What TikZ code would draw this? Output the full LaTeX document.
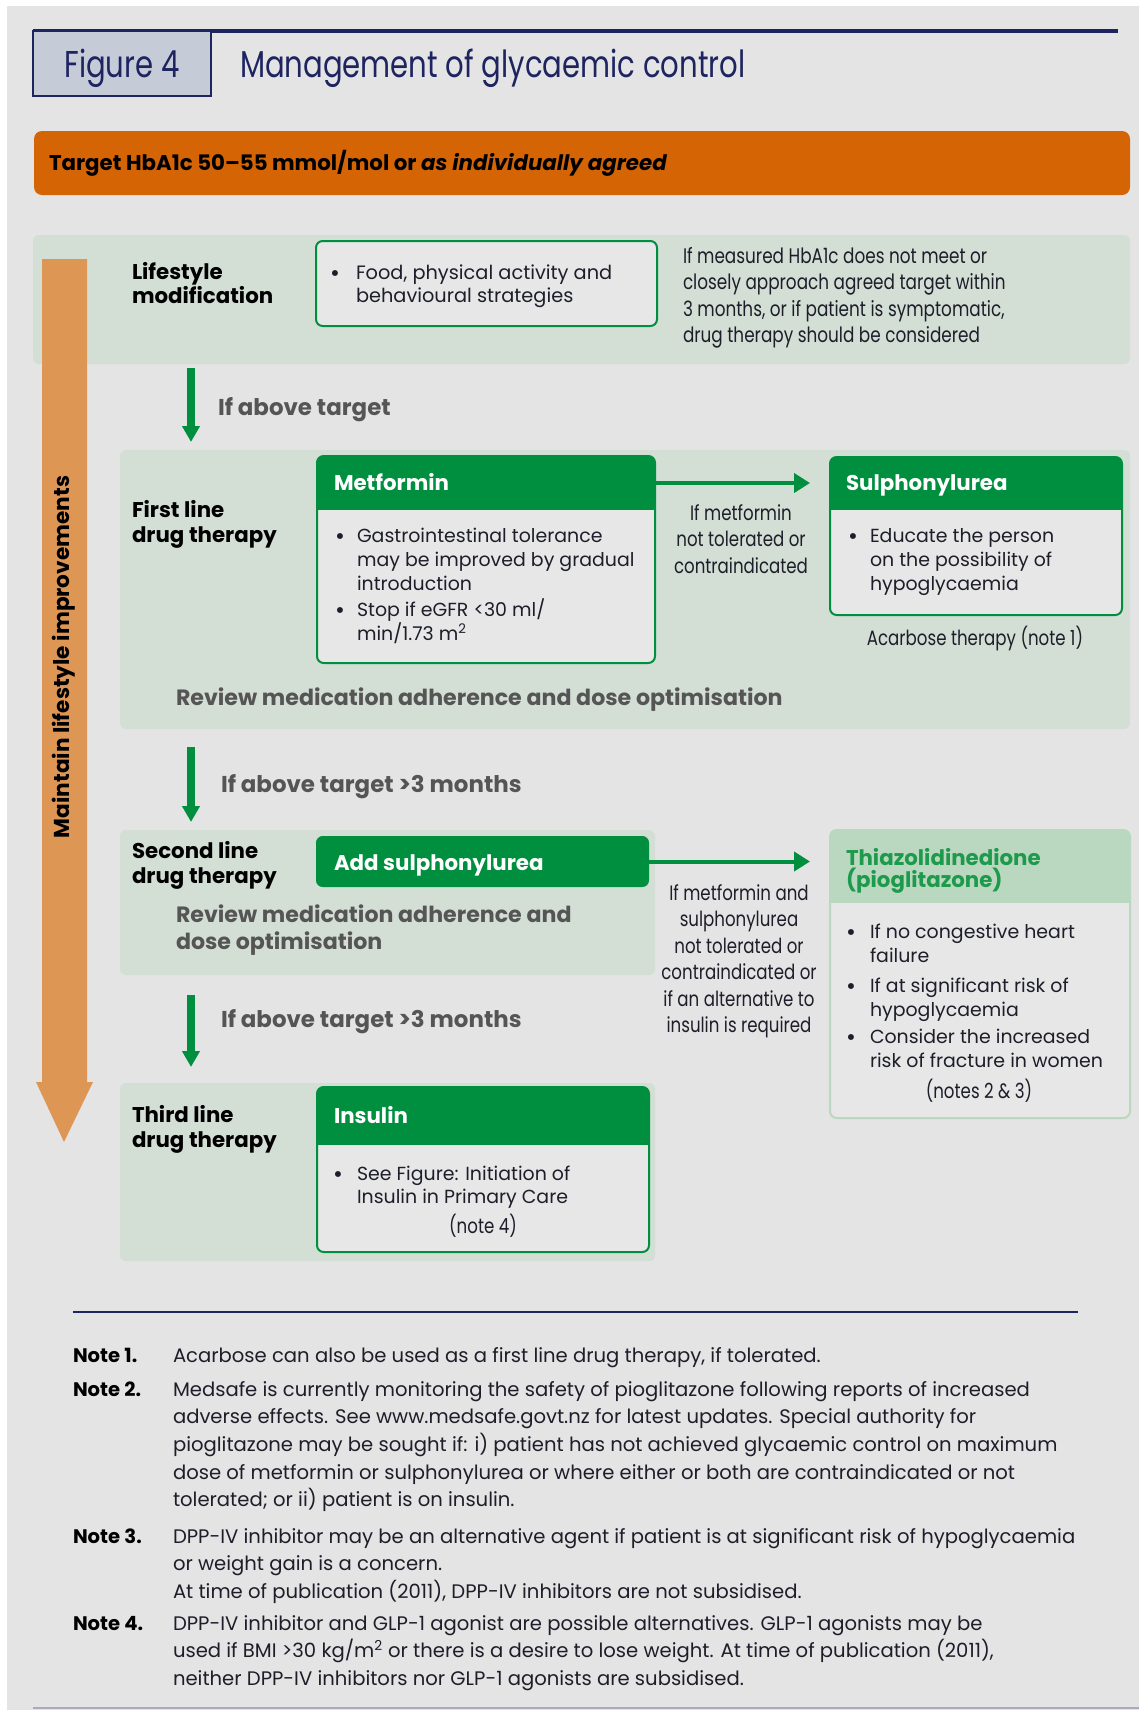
\documentclass[tikz,border=0pt]{standalone}
\usepackage{fontspec}
\setmainfont{Poppins}
\newfontfamily\condf{Poppins}[FakeStretch=0.8]
\newfontfamily\titf{Poppins}[FakeStretch=0.78]
\usetikzlibrary{arrows.meta}
\definecolor{pagebg}{HTML}{E4E4E4}
\definecolor{panel}{HTML}{D3DED5}
\definecolor{grn}{HTML}{008F3F}
\definecolor{orng}{HTML}{D46404}
\definecolor{orngl}{HTML}{DE9655}
\definecolor{navy}{HTML}{1E2460}
\definecolor{figbox}{HTML}{C6CBD8}
\definecolor{txt}{HTML}{1E1E2A}
\definecolor{gtxt}{HTML}{555555}
\definecolor{tzhead}{HTML}{B9D8BF}
\definecolor{tztxt}{HTML}{1E9A4C}
\definecolor{boxbody}{HTML}{E6E7E6}
\definecolor{rulec}{HTML}{A9A9BF}
\newcommand\mlinel[1]{\vtop{\let\\\cr\halign{##\hfil\cr#1\crcr}}}
\newcommand\mlinec[1]{\vtop{\let\\\cr\halign{\hfil##\hfil\cr#1\crcr}}}
\newcommand\bulletmark{\raisebox{-2pt}{\fontsize{18}{18}\selectfont\textbullet}}
\begin{document}
\begin{tikzpicture}[x=0.75pt,y=-0.75pt,
  every node/.style={inner sep=0pt, outer sep=0pt},
  panelbox/.style={fill=panel, rounded corners=4.5pt, anchor=north west},
  hdrbox/.style 2 args={draw=#1, line width=1.5pt, fill=boxbody, rounded corners=5pt, anchor=north west,
    path picture={\fill[#1, sharp corners] (path picture bounding box.north west) rectangle ([yshift=-#2]path picture bounding box.north east);}},
  lbl/.style={anchor=base west, text=black, font=\bfseries\fontsize{16}{19}\selectfont},
  hdtxt/.style={anchor=base west, text=white, font=\bfseries\fontsize{16}{20}\selectfont},
  body/.style={anchor=base west, text=txt, font=\fontsize{14.2}{18}\selectfont},
  bul/.style={anchor=base, text=txt, font=\fontsize{14.2}{18}\selectfont},
  small/.style={anchor=base, text=txt, font=\condf\fontsize{15.6}{19.9}\selectfont},
  gbold/.style={anchor=base west, text=gtxt, font=\bfseries\fontsize{17.2}{20.25}\selectfont},
  note/.style={anchor=base west, text=txt, font=\fontsize{14.7}{20.8}\selectfont},
  notelbl/.style={anchor=base west, text=black, font=\bfseries\fontsize{14.7}{20.8}\selectfont},
  downarr/.style={draw=grn, line width=6pt, -{Triangle[width=12.75pt, length=12pt]}},
  sidearr/.style={draw=grn, line width=3pt, -{Triangle[width=14.25pt, length=12pt]}}
]
\useasboundingbox (0,0) rectangle (1139,1710);
\fill[white] (0,0) rectangle (1139,1710);
\fill[pagebg] (7,6) rectangle (1139,1710);

% header
\draw[navy, line width=2.6pt] (33,31) -- (1118,31);
\node[draw=navy, line width=1.2pt, fill=figbox, anchor=north west, minimum width=178*0.75pt, minimum height=65*0.75pt] (figbox) at (33,31) {};
\node[anchor=base, text=navy, font=\titf\fontsize{28}{32}\selectfont] (figlbl) at (122,77) {Figure 4};
\node[anchor=base west, text=navy, font=\titf\fontsize{28}{32}\selectfont] (title) at (240,77) {Management of glycaemic control};

% target bar
\node[fill=orng, rounded corners=6pt, anchor=north west, minimum width=1096*0.75pt, minimum height=64*0.75pt] (target) at (34,131) {};
\node[anchor=base west, text=black, font=\bfseries\fontsize{16}{19}\selectfont] (targettxt) at (49,170) {Target HbA1c 50–55 mmol/mol or \textit{as individually agreed}};

% panels
\node[panelbox, minimum width=1097*0.75pt, minimum height=129*0.75pt] (life) at (33,235) {};
\node[panelbox, minimum width=1010*0.75pt, minimum height=279*0.75pt] (first) at (120,450) {};
\node[panelbox, minimum width=535*0.75pt, minimum height=145*0.75pt] (second) at (120,830) {};
\node[panelbox, minimum width=535*0.75pt, minimum height=178*0.75pt] (third) at (120,1083) {};

% big orange arrow
\fill[orngl] (42,259) -- (87,259) -- (87,1082) -- (93,1082) -- (64,1142) -- (36,1082) -- (42,1082) -- cycle;
\node[rotate=90, text=black, font=\bfseries\fontsize{16.2}{20}\selectfont] (maintain) at (64,657) {Maintain lifestyle improvements};

% boxes
\node[draw=grn, line width=1.5pt, fill=boxbody, rounded corners=5pt, anchor=north west, minimum width=341*0.75pt, minimum height=85*0.75pt] (food) at (316,241) {};
\node[hdrbox={grn}{40.5pt}, minimum width=338*0.75pt, minimum height=207*0.75pt] (met) at (317,456) {};
\node[hdrbox={grn}{39.75pt}, minimum width=292*0.75pt, minimum height=158*0.75pt] (sul) at (830,457) {};
\node[fill=grn, rounded corners=5pt, anchor=north west, minimum width=333*0.75pt, minimum height=51*0.75pt] (addsu) at (316,836) {};
\node[hdrbox={tzhead}{54.75pt}, minimum width=300*0.75pt, minimum height=288*0.75pt] (tz) at (830,830) {};
\node[hdrbox={grn}{43.5pt}, minimum width=332*0.75pt, minimum height=165*0.75pt] (ins) at (317,1087) {};

% connectors
\coordinate (col) at (191,0);
\draw[downarr, shorten <=3pt, shorten >=6pt] (life.south -| col) -- (first.north -| col);
\draw[downarr, shorten <=13.5pt, shorten >=6pt] (first.south -| col) -- (second.north -| col);
\draw[downarr, shorten <=15pt, shorten >=12pt] (second.south -| col) -- (third.north -| col);
\path ([yshift=-20.25pt]met.north east) coordinate (metR);
\draw[sidearr, shorten >=15pt] (metR) -- (metR -| sul.west);
\draw[sidearr, shorten >=15pt] (addsu.east) -- (addsu.east -| tz.west);

% lifestyle texts
\node[lbl, font=\bfseries\fontsize{16}{18}\selectfont] (lifelbl) at (132,279) {\mlinel{Lifestyle\\modification}};
\node[bul] (foodb) at (335,279) {\bulletmark};
\node[body, font=\fontsize{14.5}{17.25}\selectfont] (foodt) at (356,279) {\mlinel{Food, physical activity and\\behavioural strategies}};
\node[anchor=base west, text=txt, font=\condf\fontsize{15.8}{19.9}\selectfont] (risk) at (683,263) {\mlinel{If measured HbA1c does not meet or\\closely approach agreed target within\\3 months, or if patient is symptomatic,\\drug therapy should be considered}};
\node[gbold] (abv1) at (218,415) {If above target};

% first line
\node[lbl] (firstlbl) at (132,517) {\mlinel{First line\\drug therapy}};
\node[hdtxt] (metlbl) at (334,490) {Metformin};
\node[bul] (metb1) at (340,542) {\bulletmark};
\node[body] (mett1) at (357,542) {\mlinel{Gastrointestinal tolerance\\may be improved by gradual\\introduction}};
\node[bul] (metb2) at (340,616) {\bulletmark};
\node[body, font=\fontsize{14.2}{16.5}\selectfont] (mett2) at (357,616) {\mlinel{Stop if eGFR <30 ml/\\min/1.73 m\textsuperscript{2}}};
\node[small] (mid1) at (741,520) {\mlinec{If metformin\\not tolerated or\\contraindicated}};
\node[hdtxt] (sullbl) at (846,490) {Sulphonylurea};
\node[bul] (sulb) at (853,542) {\bulletmark};
\node[body] (sult) at (870,542) {\mlinel{Educate the person\\on the possibility of\\hypoglycaemia}};
\node[small] (acarb) at (975,645) {Acarbose therapy (note 1)};
\node[gbold, font=\bfseries\fontsize{16.6}{20.25}\selectfont] (rev1) at (176,705) {Review medication adherence and dose optimisation};
\node[gbold] (abv2) at (221,792) {If above target >3 months};

% second line
\node[lbl] (secondlbl) at (132,858) {\mlinel{Second line\\drug therapy}};
\node[hdtxt] (addlbl) at (334,870) {Add sulphonylurea};
\node[gbold, font=\bfseries\fontsize{16.6}{20.25}\selectfont] (rev2) at (176,922) {\mlinel{Review medication adherence and\\dose optimisation}};
\node[small] (mid2) at (739,900) {\mlinec{If metformin and\\sulphonylurea\\not tolerated or\\contraindicated or\\if an alternative to\\insulin is required}};
\node[anchor=base west, text=tztxt, font=\bfseries\fontsize{16}{16.5}\selectfont] (tzlbl) at (846,865) {\mlinel{Thiazolidinedione\\(pioglitazone)}};
\node[bul] (tzb1) at (851,938) {\bulletmark};
\node[body] (tzt1) at (870,938) {\mlinel{If no congestive heart\\failure}};
\node[bul] (tzb2) at (851,992) {\bulletmark};
\node[body] (tzt2) at (870,992) {\mlinel{If at significant risk of\\hypoglycaemia}};
\node[bul] (tzb3) at (851,1043) {\bulletmark};
\node[body] (tzt3) at (870,1043) {\mlinel{Consider the increased\\risk of fracture in women}};
\node[small] (tznote) at (979,1098) {(notes 2 \& 3)};
\node[gbold] (abv3) at (221,1027) {If above target >3 months};

% third line
\node[lbl] (thirdlbl) at (132,1122) {\mlinel{Third line\\drug therapy}};
\node[hdtxt] (inslbl) at (334,1123) {Insulin};
\node[bul] (insb) at (338,1180) {\bulletmark};
\node[body, font=\fontsize{14.2}{17.25}\selectfont] (inst) at (357,1180) {\mlinel{See Figure: Initiation of\\Insulin in Primary Care}};
\node[small] (insnote) at (483,1233) {(note 4)};

% footer
\draw[navy, line width=1.5pt] (73,1312) -- (1078,1312);
\node[notelbl] (n1l) at (73,1362) {Note 1.};
\node[note] (n1t) at (173,1362) {Acarbose can also be used as a first line drug therapy, if tolerated.};
\node[notelbl] (n2l) at (73,1396) {Note 2.};
\node[note] (n2t) at (173,1396) {\mlinel{Medsafe is currently monitoring the safety of pioglitazone following reports of increased\\adverse effects. See www.medsafe.govt.nz for latest updates. Special authority for\\pioglitazone may be sought if: i) patient has not achieved glycaemic control on maximum\\dose of metformin or sulphonylurea or where either or both are contraindicated or not\\tolerated; or ii) patient is on insulin.}};
\node[notelbl] (n3l) at (73,1543) {Note 3.};
\node[note] (n3t) at (173,1543) {\mlinel{DPP-IV inhibitor may be an alternative agent if patient is at significant risk of hypoglycaemia\\or weight gain is a concern.\\At time of publication (2011), DPP-IV inhibitors are not subsidised.}};
\node[notelbl] (n4l) at (73,1630) {Note 4.};
\node[note] (n4t) at (173,1630) {\mlinel{DPP-IV inhibitor and GLP-1 agonist are possible alternatives. GLP-1 agonists may be\\used if BMI >30 kg/m\textsuperscript{2} or there is a desire to lose weight. At time of publication (2011),\\neither DPP-IV inhibitors nor GLP-1 agonists are subsidised.}};
\draw[rulec, line width=1.5pt] (33,1708) -- (1139,1708);
\end{tikzpicture}
\end{document}
